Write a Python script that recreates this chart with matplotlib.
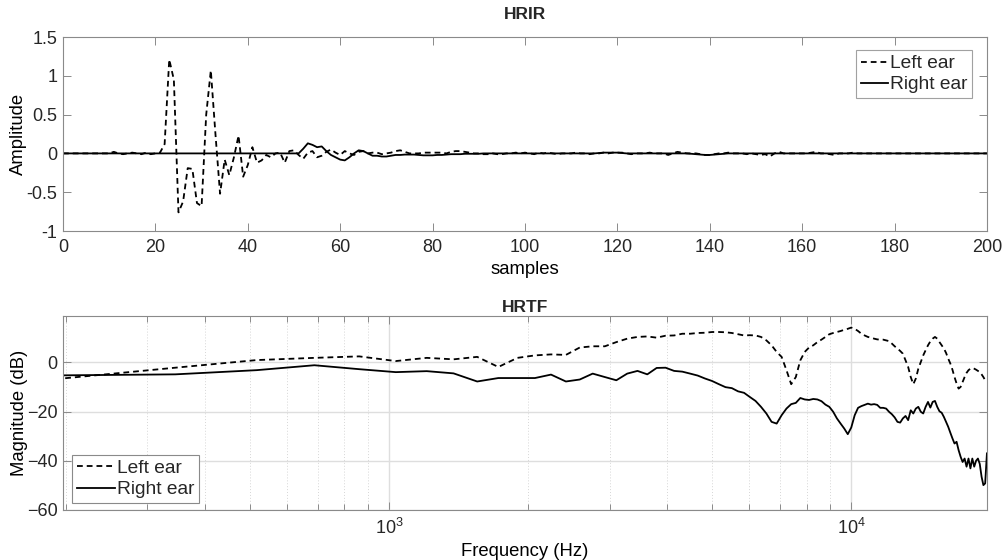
import numpy as np
import matplotlib
matplotlib.use("Agg")
import matplotlib.pyplot as plt
from matplotlib.ticker import LogLocator, NullFormatter, FixedLocator

plt.rcParams['font.family'] = ['Liberation Sans', 'DejaVu Sans']
plt.rcParams['text.color'] = '#262626'
plt.rcParams['mathtext.fontset'] = 'custom'
plt.rcParams['mathtext.rm'] = 'Liberation Sans'

# HRIR, samples 0..200
left_ir = [
    0, 0, 0, 0, 0, 0, 0, 0, 0, 0,
    0, 0.02, 0, -0.01, 0, 0.01, 0, -0.01, 0.01, -0.01,
    0, 0.01, 0.12, 1.21, 0.95, -0.76, -0.62, -0.19, -0.2, -0.64,
    -0.68, 0.5, 1.07, 0.25, -0.52, -0.08, -0.28, -0.05, 0.23, -0.3,
    -0.15, 0.08, -0.12, -0.09, -0.02, -0.05, 0.0, 0.01, -0.12, 0.03,
    0.04, -0.02, -0.07, 0.01, 0.03, -0.05, -0.03, 0.02, 0.05, 0.01,
    -0.02, 0.03, 0.0, -0.02, 0.02, 0.03, 0.0, 0.01, 0.01, -0.01,
    0.0, 0.01, 0.03, 0.04, 0.02, 0.0, 0.0, 0.0, 0.01, 0.01,
    0.01, 0.01, 0.01, 0.0, 0.02, 0.03, 0.03, 0.02, 0.01, 0.0,
    0.0, -0.01, -0.01, 0.0, -0.01, -0.01, 0.0, 0.0, 0.01, 0.0,
    0.01, 0.0, -0.01, 0.01, 0.0, 0.01, 0.0, -0.01, 0.0, 0.0,
    0.0, 0.01, 0.0, 0.0, -0.01, 0.0, 0.0, 0.01, 0.0, 0.01,
    0.01, 0.01, 0.0, -0.01, 0.0, 0.0, 0.0, 0.01, 0.0, 0.0,
    0.0, -0.02, 0.0, 0.02, 0.01, 0.0, 0.0, 0.0, -0.01, -0.02,
    -0.02, -0.01, 0.0, 0.0, 0.01, 0.0, 0.0, 0.0, -0.01, 0.0,
    -0.01, -0.02, -0.01, -0.04, 0.0, 0.02, 0.0, 0.0, 0.0, 0.0,
    0.0, 0.0, 0.01, 0.02, 0.0, 0.0, -0.01, -0.02, 0.0, 0.0,
    0.0, 0.01, 0.0, 0.0, 0.0, 0.0, 0.0, 0.0, 0.0, 0.0,
    0, 0, 0, 0, 0, 0, 0, 0, 0, 0,
    0, 0, 0, 0, 0, 0, 0, 0, 0, 0,
    0,
]
right_ir = [
    0, 0, 0, 0, 0, 0, 0, 0, 0, 0,
    0, 0, 0, 0, 0, 0, 0, 0, 0, 0,
    0, 0, 0, 0, 0, 0, 0, 0, 0, 0,
    0, 0, 0, 0, 0, 0, 0, 0, 0, 0,
    0, 0, 0, 0, 0, 0, 0, 0, 0, 0,
    0, 0, 0.06, 0.13, 0.11, 0.08, 0.09, 0.03, -0.02, -0.05,
    -0.08, -0.09, -0.05, 0.0, 0.04, 0.03, 0.0, -0.03, -0.03, -0.04,
    -0.04, -0.03, -0.02, -0.02, -0.015, -0.015, -0.015, -0.02, -0.025, -0.025,
    -0.025, -0.02, -0.02, -0.015, -0.01, -0.01, -0.01, -0.005, -0.005, -0.005,
    -0.005, 0, 0, 0, 0, 0, 0, 0, 0, 0,
    0, 0, 0, 0, 0, 0, 0, 0, 0, 0,
    0, 0, 0, 0, 0, 0, 0.005, 0.01, 0.01, 0.01,
    0.01, 0.005, 0, 0, 0, 0, 0, 0, 0, 0,
    0, 0, 0, 0, 0, 0, -0.005, -0.01, -0.015, -0.02,
    -0.02, -0.015, -0.01, -0.005, 0, 0, 0, 0, 0, 0,
    0, 0, 0, 0, 0, 0, 0, 0, 0, 0,
    0, 0, 0, 0, 0, 0, 0, 0, 0, 0,
    0, 0, 0, 0, 0, 0, 0, 0, 0, 0,
    0, 0, 0, 0, 0, 0, 0, 0, 0, 0,
    0, 0, 0, 0, 0, 0, 0, 0, 0, 0,
    0,
]

# HRTF magnitude (dB) at FFT bins 1..114 (fs 44100, N 256)
FS = 44100
NFFT = 256
left_tf = [
    -7.6, -2.2, 0.9, 1.8, 2.4, 0.5, 1.8, 1.2, 2.2, -1.9,
    1.8, 2.8, 3.2, 3.0, 6.0, 6.5, 6.5, 8.2, 9.6, 10.3,
    10.5, 10.0, 10.8, 10.9, 11.6, 11.6, 11.9, 12.0, 12.3, 12.3,
    12.2, 11.9, 11.4, 10.9, 11.0, 10.9, 10.3, 8.9, 6.9, 4.2,
    2.2, -3.2, -8.9, -6.0, 0.8, 4.2, 6.0, 6.9, 8.2, 9.2,
    10.3, 11.4, 11.9, 12.3, 12.7, 13.2, 13.6, 14.1, 13.6, 12.7,
    11.6, 10.9, 10.3, 10.0, 9.6, 9.3, 9.2, 9.2, 8.9, 8.6,
    7.6, 6.5, 5.6, 4.6, 3.5, 0.8, -1.9, -6.0, -8.9, -6.6,
    -2.6, 0.1, 2.8, 4.9, 6.9, 8.5, 9.6, 10.3, 9.6, 8.2,
    6.9, 5.6, 3.8, 1.5, -0.5, -3.0, -6.0, -8.6, -10.7, -10.0,
    -8.0, -6.0, -4.3, -3.2, -2.6, -2.3, -2.6, -3.0, -3.5, -3.9,
    -4.9, -6.0, -7.3, -8.0,
]
right_tf = [
    -5.4, -4.9, -3.2, -1.2, -2.8, -4.0, -3.6, -4.5, -7.8, -6.4,
    -6.4, -6.4, -5.0, -7.8, -7.0, -4.6, -6.0, -7.3, -4.6, -3.5,
    -4.9, -2.3, -2.2, -3.5, -3.8, -4.6, -5.4, -6.6, -7.6, -8.9,
    -10.1, -10.5, -11.8, -12.4, -14.1, -15.7, -18.1, -20.8, -24.2, -24.9,
    -21.5, -18.8, -17.0, -16.5, -14.5, -15.1, -15.3, -14.9, -15.1, -15.8,
    -17.2, -18.1, -20.1, -22.8, -24.9, -26.9, -29.2, -26.5, -21.5, -18.5,
    -17.8, -17.3, -16.8, -17.2, -17.0, -17.3, -18.5, -18.5, -18.8, -20.1,
    -21.1, -22.4, -24.2, -24.5, -22.8, -21.8, -23.5, -19.5, -20.8, -18.8,
    -18.1, -20.1, -20.8, -18.1, -16.1, -18.4, -16.1, -15.7, -18.1, -19.9,
    -20.5, -22.2, -24.2, -26.2, -28.6, -30.9, -33.0, -32.3, -35.7, -38.4,
    -40.5, -39.1, -42.4, -39.1, -43.1, -39.1, -42.4, -40.0, -39.1, -41.3,
    -46.5, -49.9, -49.2, -37.0,
]

samples = np.arange(len(left_ir))
freq = np.arange(1, len(left_tf) + 1) * FS / NFFT

FRAME = '#8a8a8a'
TXT = '#262626'
DASH = (0, (3.2, 2.2))
LW = 1.3
TICK_FS = 13
LABEL_FS = 13.3
TITLE_FS = 12.5
LEG_FS = 13.8


def style_axes(ax):
    for s in ax.spines.values():
        s.set_color(FRAME)
        s.set_linewidth(0.8)
    ax.tick_params(which='both', direction='in', top=True, right=True,
                   color=FRAME, labelcolor=TXT, labelsize=TICK_FS, width=0.7)
    ax.tick_params(which='major', length=6)
    ax.tick_params(which='minor', length=4)
    ax.tick_params(axis='x', pad=6)
    ax.tick_params(axis='y', pad=4)


fig = plt.figure(figsize=(10.03, 5.6), dpi=100)

# --- HRIR ---
ax1 = fig.add_axes([0.0628, 0.5875, 0.9212, 0.3464])
ax1.plot(samples, left_ir, color='black', lw=LW, ls=DASH, label='Left ear')
ax1.plot(samples, right_ir, color='black', lw=LW, label='Right ear')
ax1.set_xlim(0, 200)
ax1.set_ylim(-1, 1.5)
ax1.set_xticks(np.arange(0, 201, 20))
ax1.set_yticks([-1, -0.5, 0, 0.5, 1, 1.5])
ax1.set_yticklabels(['-1', '-0.5', '0', '0.5', '1', '1.5'])
style_axes(ax1)
ax1.set_title('HRIR', fontsize=TITLE_FS, fontweight='bold', pad=13)
ax1.set_xlabel('samples', fontsize=LABEL_FS, labelpad=3)
ax1.set_ylabel('Amplitude', fontsize=LABEL_FS, labelpad=0)
leg1 = ax1.legend(loc='upper right', bbox_to_anchor=(0.984, 0.933),
                  fontsize=LEG_FS, frameon=True, fancybox=False,
                  handlelength=1.4, handletextpad=0.1, borderpad=0.25,
                  labelspacing=0.2, borderaxespad=0)
leg1.get_frame().set_edgecolor(FRAME)
leg1.get_frame().set_linewidth(0.8)

# --- HRTF ---
ax2 = fig.add_axes([0.0628, 0.0893, 0.9212, 0.3464])
ax2.semilogx(freq, left_tf, color='black', lw=LW, ls=DASH, label='Left ear')
ax2.semilogx(freq, right_tf, color='black', lw=LW, label='Right ear')
ax2.set_xlim(197, 19640)
ax2.set_ylim(-60, 18.8)
ax2.set_yticks([-60, -40, -20, 0])
ax2.xaxis.set_major_locator(FixedLocator([1e3, 1e4]))
ax2.xaxis.set_minor_locator(LogLocator(base=10, subs=np.arange(2, 10), numticks=20))
ax2.xaxis.set_minor_formatter(NullFormatter())
ax2.grid(True, which='major', color='#dedede', lw=1.0, ls='-')
ax2.grid(True, which='minor', axis='x', color='#d6d6d6', lw=0.7, ls=(0, (1, 2)))
ax2.set_axisbelow(True)
style_axes(ax2)
ax2.set_title('HRTF', fontsize=TITLE_FS, fontweight='bold', pad=3)
ax2.set_xlabel('Frequency (Hz)', fontsize=LABEL_FS, labelpad=3)
ax2.set_ylabel('Magnitude (dB)', fontsize=LABEL_FS, labelpad=-1)
leg2 = ax2.legend(loc='lower left', bbox_to_anchor=(0.0097, 0.036),
                  fontsize=LEG_FS, frameon=True, fancybox=False,
                  handlelength=2.0, handletextpad=0.1, borderpad=0.25,
                  labelspacing=0.2, borderaxespad=0, framealpha=1)
leg2.get_frame().set_edgecolor(FRAME)
leg2.get_frame().set_linewidth(0.8)

fig.savefig('out.png', dpi=100, facecolor='white')
